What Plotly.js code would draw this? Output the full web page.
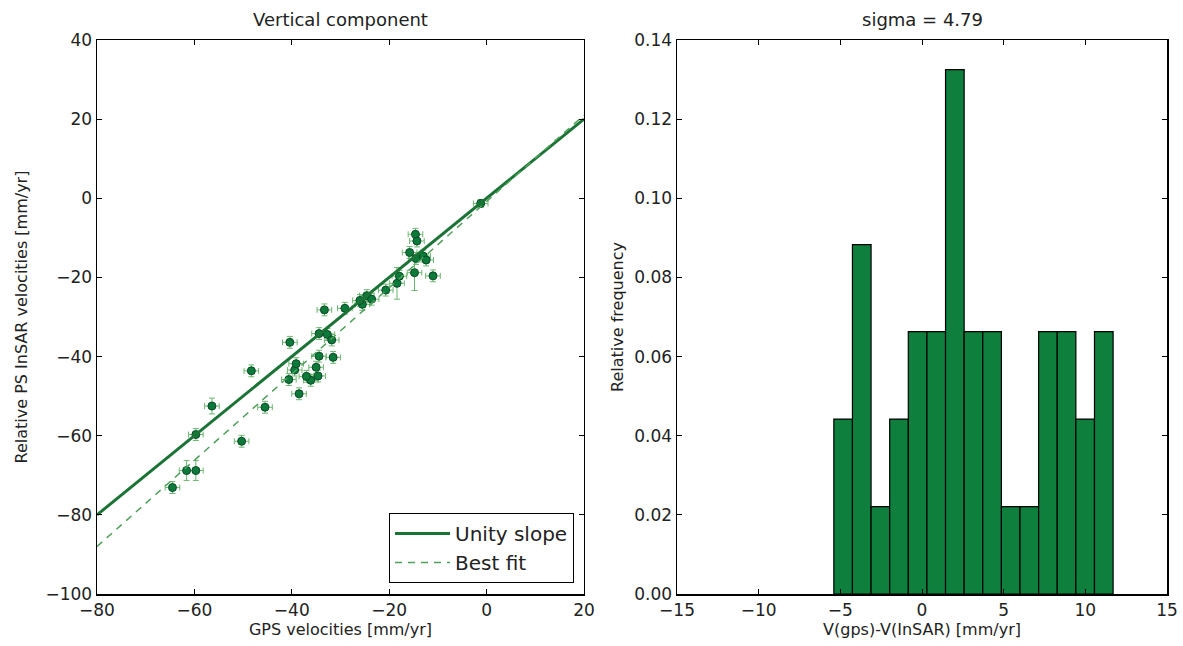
<!DOCTYPE html>
<html>
<head>
<meta charset="utf-8">
<script src="https://cdn.plot.ly/plotly-3.0.1.min.js"></script>
<style>html,body{margin:0;padding:0;background:#fff;}#chart{width:1183px;height:646px;}</style>
</head>
<body>
<div id="chart"></div>
<script>
// GPS vs InSAR vertical velocities (mm/yr)
const gpsVel = [-64.5, -61.6, -59.7, -59.7, -56.4, -50.3, -48.3, -45.5, -40.4, -40.6,
                -38.5, -39.4, -39.1, -36.1, -34.6, -35.0, -34.4, -31.5, -34.4, -32.7,
                -31.8, -33.3, -29.1, -25.5, -24.6, -23.6, -20.7, -18.4, -17.9, -14.8,
                -11.0, -15.8, -14.5, -13.0, -12.4, -14.6, -14.3, -1.2, -37.0, -26.0];
const insarVel = [-73.1, -68.8, -68.8, -59.7, -52.5, -61.4, -43.6, -52.8, -36.4, -45.8,
                  -49.4, -43.4, -41.8, -46.0, -44.9, -42.7, -39.9, -40.2, -34.2, -34.4,
                  -35.8, -28.2, -27.8, -26.8, -24.6, -25.5, -23.2, -21.5, -19.7, -18.8,
                  -19.6, -13.7, -15.2, -14.6, -15.6, -9.1, -10.8, -1.3, -45.0, -25.8];
const gpsErr = [1.5, 1.5, 1.5, 1.5, 1.5, 1.5, 1.5, 1.5, 1.5, 1.5,
                1.5, 1.5, 1.5, 1.5, 1.5, 1.5, 1.5, 1.5, 1.5, 1.5,
                1.5, 1.5, 1.5, 1.5, 1.5, 1.5, 1.5, 1.5, 1.5, 1.5,
                1.5, 1.5, 1.5, 1.5, 1.5, 1.5, 1.5, 1.5, 1.5, 1.5];
const insarErr = [1.5, 2.5, 2.5, 1.5, 2.0, 1.5, 1.5, 1.5, 1.5, 1.5,
                  1.5, 1.5, 1.5, 1.5, 1.5, 1.5, 1.5, 1.5, 1.5, 1.5,
                  1.5, 1.5, 1.5, 1.5, 1.5, 1.5, 1.5, 4.0, 1.5, 4.5,
                  1.5, 1.5, 1.5, 1.5, 1.5, 1.5, 1.5, 1.0, 1.5, 1.5];

// reference lines
const unityX = [-80, 20];
const unityY = [-80, 20];
const fitX = [-80, 20];
const fitY = [-88, 21];

// histogram of V(gps)-V(InSAR)
const binCenters = [-4.83, -3.69, -2.55, -1.41, -0.27, 0.87, 2.01, 3.15, 4.29, 5.43,
                    6.57, 7.71, 8.85, 9.99, 11.13];
const binWidth = 1.14;
const relFreq = [0.0442, 0.0883, 0.0221, 0.0442, 0.0663, 0.0663, 0.1325, 0.0663, 0.0663, 0.0221,
                 0.0221, 0.0663, 0.0663, 0.0442, 0.0663];

const FONT = 'DejaVu Sans, Liberation Sans, sans-serif';
const TXT = '#222222';

const traces = [
  {
    type: 'scatter', mode: 'markers', x: gpsVel, y: insarVel,
    xaxis: 'x', yaxis: 'y', showlegend: false,
    marker: {color: '#0b7a3a', size: 8, line: {color: '#0a4a24', width: 1}},
    error_x: {type: 'data', array: gpsErr, visible: true, color: '#6cb86f', thickness: 1, width: 3},
    error_y: {type: 'data', array: insarErr, visible: true, color: '#6cb86f', thickness: 1, width: 3}
  },
  {
    type: 'scatter', mode: 'lines', x: unityX, y: unityY, name: 'Unity slope',
    xaxis: 'x', yaxis: 'y',
    line: {color: '#1b7436', width: 3}
  },
  {
    type: 'scatter', mode: 'lines', x: fitX, y: fitY, name: 'Best fit',
    xaxis: 'x', yaxis: 'y',
    line: {color: '#4fa05a', width: 1.5, dash: '7px,6px'}
  },
  {
    type: 'bar', x: binCenters, y: relFreq, width: binWidth,
    xaxis: 'x2', yaxis: 'y2', showlegend: false,
    marker: {color: '#0e7f3d', line: {color: '#000000', width: 1.2}}
  }
];

const axisCommon = {
  showline: true, linecolor: '#000', linewidth: 1.5, mirror: 'allticks',
  ticks: 'inside', ticklen: 5, tickwidth: 1, tickcolor: '#000',
  showgrid: false, zeroline: false,
  tickfont: {family: FONT, size: 17, color: TXT}
};

const layout = {
  width: 1183, height: 646,
  margin: {l: 97, r: 16, t: 40, b: 52},
  paper_bgcolor: '#fff', plot_bgcolor: '#fff',
  font: {family: FONT, color: TXT},
  bargap: 0,
  xaxis: Object.assign({}, axisCommon, {
    domain: [0, 0.4551], range: [-80, 20], dtick: 20, tick0: -80, anchor: 'y',
    title: {text: 'GPS velocities [mm/yr]', font: {family: FONT, size: 16, color: TXT}, standoff: 2}
  }),
  yaxis: Object.assign({}, axisCommon, {
    domain: [0, 1], range: [-100, 40], dtick: 20, tick0: -100, anchor: 'x',
    title: {text: 'Relative PS InSAR velocities [mm/yr]', font: {family: FONT, size: 16, color: TXT}, standoff: 14}
  }),
  xaxis2: Object.assign({}, axisCommon, {
    domain: [0.5421, 1], range: [-15, 15], dtick: 5, tick0: -15, anchor: 'y2',
    title: {text: 'V(gps)-V(InSAR) [mm/yr]', font: {family: FONT, size: 16, color: TXT}, standoff: 2}
  }),
  yaxis2: Object.assign({}, axisCommon, {
    domain: [0, 1], range: [0, 0.14], dtick: 0.02, tick0: 0, tickformat: '.2f', anchor: 'x2',
    title: {text: 'Relative frequency', font: {family: FONT, size: 16, color: TXT}, standoff: 6}
  }),
  legend: {
    x: 0.4458, y: 0.02, xanchor: 'right', yanchor: 'bottom',
    bgcolor: '#fff', bordercolor: '#000', borderwidth: 1,
    font: {family: FONT, size: 20, color: TXT},
    itemwidth: 55,
    tracegroupgap: 0
  },
  annotations: [
    {text: 'Vertical component', xref: 'x domain', yref: 'paper', x: 0.5, y: 1, yshift: 8,
     xanchor: 'center', yanchor: 'bottom', showarrow: false,
     font: {family: FONT, size: 18, color: TXT}},
    {text: 'sigma = 4.79', xref: 'x2 domain', yref: 'paper', x: 0.5, y: 1, yshift: 8,
     xanchor: 'center', yanchor: 'bottom', showarrow: false,
     font: {family: FONT, size: 18, color: TXT}}
  ]
};

Plotly.newPlot('chart', traces, layout, {displayModeBar: false, staticPlot: true});
</script>
</body>
</html>
